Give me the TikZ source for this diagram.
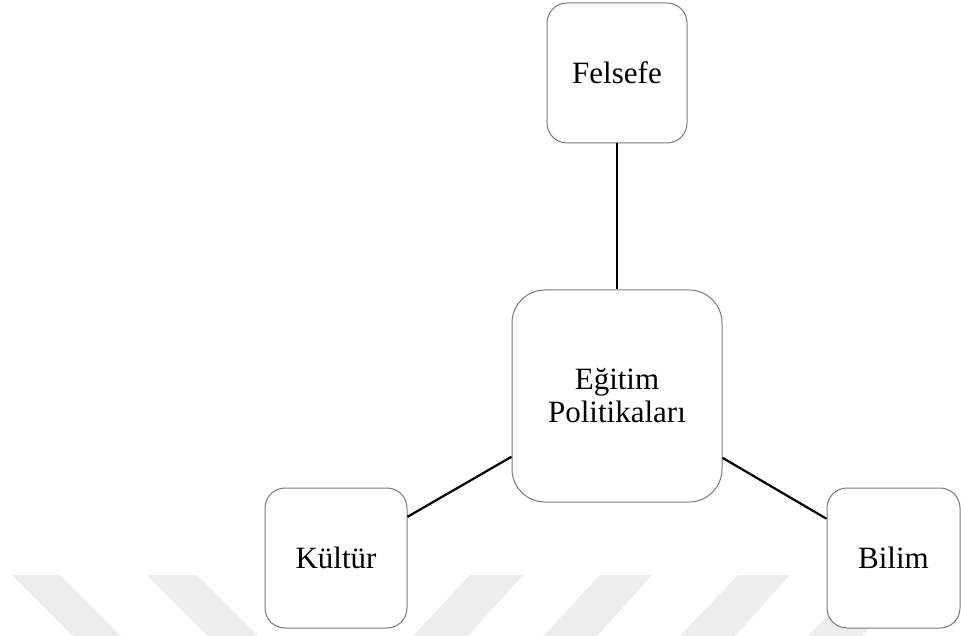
\documentclass[tikz,border=0pt]{standalone}
\usepackage{fontspec}
\newfontfamily\lblserif{Liberation Serif}
\definecolor{boxgray}{HTML}{7A7A7A}
\definecolor{stripegray}{HTML}{EDEDED}
\tikzset{
  conceptbox/.style={draw=boxgray, line width=1pt, fill=white, rounded corners=20pt,
    minimum width=140pt, minimum height=140pt, inner sep=0pt, align=center,
    font=\lblserif\fontsize{31}{33}\selectfont},
  link/.style={draw=black, line width=2.2pt},
  stripe/.style={fill=stripegray, draw=none}
}
\begin{document}
\begin{tikzpicture}[x=1pt,y=-1pt]
  \useasboundingbox (0,0) rectangle (961,636);
  % faint diagonal band pattern along the bottom edge
  \fill[stripe] (12,575) -- (60,575) -- (121,636) -- (73,636) -- cycle;
  \fill[stripe] (147,575) -- (197,575) -- (258,636) -- (208,636) -- cycle;
  \fill[stripe] (470,575) -- (523,575) -- (468,636) -- (413,636) -- cycle;
  \fill[stripe] (600,575) -- (652,575) -- (597,636) -- (543,636) -- cycle;
  \fill[stripe] (738,575) -- (790,575) -- (735,636) -- (680,636) -- cycle;
  \fill[stripe] (868,575) -- (920,575) -- (862,636) -- (808,636) -- cycle;
  % concept boxes
  \node[conceptbox] (fels) at (617,73) {Felsefe};
  \node[conceptbox, minimum width=210pt, minimum height=212pt, rounded corners=33pt]
    (egit) at (617,396) {Eğitim\\Politikaları};
  \node[conceptbox, minimum width=142pt] (kult) at (336,558) {Kültür};
  \node[conceptbox, minimum width=133pt] (bili) at (893.5,558) {Bilim};
  % connectors to the central box
  \draw[link] (fels) -- (egit);
  \draw[link] (kult) -- (egit);
  \draw[link] (bili) -- (egit);
\end{tikzpicture}
\end{document}
